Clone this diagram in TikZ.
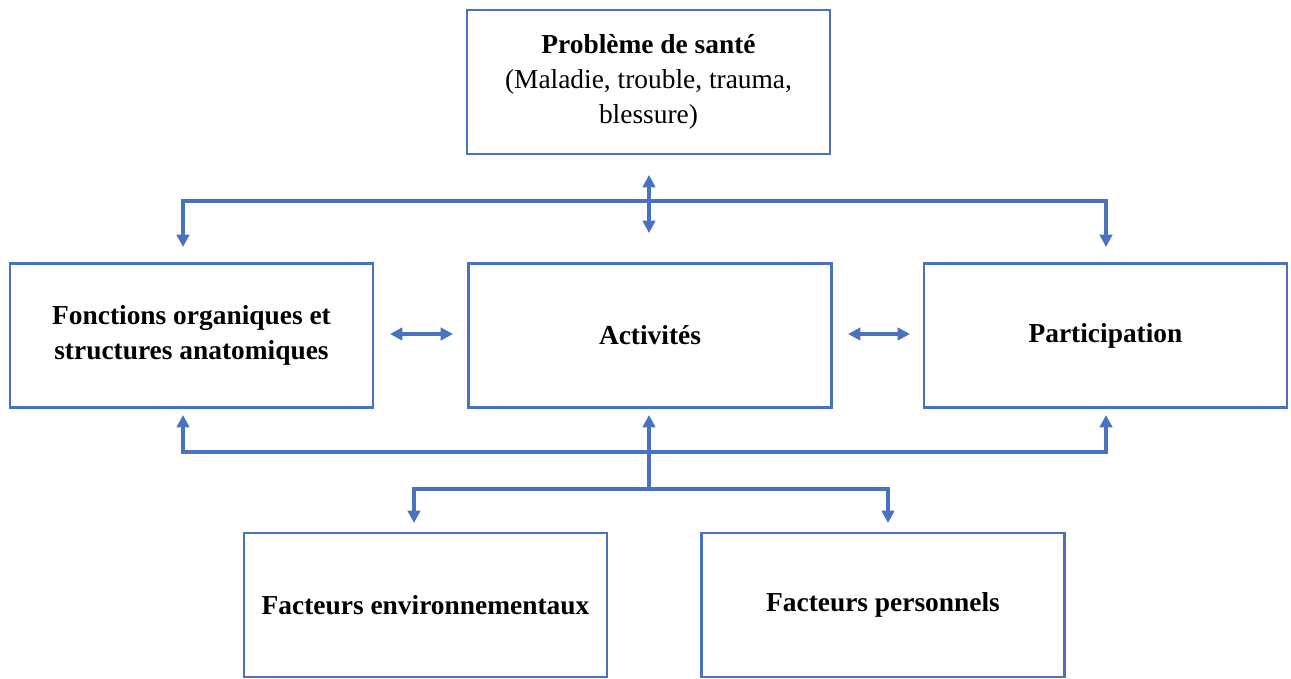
\documentclass[tikz,border=0pt]{standalone}
\usepackage{fontspec}
\setmainfont{Liberation Serif}
\usetikzlibrary{arrows.meta, positioning}
\definecolor{icfblue}{HTML}{4A72C0}

\begin{document}
\begin{tikzpicture}[x=0.02cm, y=-0.02cm, font=\fontsize{15.6}{20}\selectfont,
  >={Triangle[length=7pt, width=7pt]},
  box/.style={draw=icfblue, line width=1.6pt, minimum width=7.26cm, minimum height=2.88cm, align=center, inner sep=0pt},
  link/.style={draw=icfblue, line width=1.9pt}
]
  \useasboundingbox[fill=white] (0,0) rectangle (1291,679);
  % Boxes
  \node[box] (sante) at (648.5, 82) {\textbf{Problème de santé}\\(Maladie, trouble, trauma,\\blessure)};
  \node[box] (fonctions) at (191.5, 335.5) {\textbf{Fonctions organiques et}\\\textbf{structures anatomiques}};
  \node[box] (activites) at (650, 335.5) {\textbf{Activités}};
  \node[box] (participation) at (1105.5, 335.5) {\textbf{Participation}};
  \node[box] (environnement) at (425.5, 605) {\textbf{Facteurs environnementaux}};
  \node[box] (personnels) at (883, 605) {\textbf{Facteurs personnels}};

  % Upper bus
  \coordinate (santeA) at (649, 175);
  \coordinate (santeB) at (649, 233);
  \coordinate (hautL) at (183, 247);
  \coordinate (hautLc) at (183, 201);
  \coordinate (hautRc) at (1106, 201);
  \coordinate (hautR) at (1106, 247);
  \draw[link, <->] (santeA) -- (santeB);
  \draw[link, <->] (hautL) -- (hautLc) -- (hautRc) -- (hautR);

  % Side arrows
  \coordinate (milA) at (390, 334);
  \coordinate (milB) at (453, 334);
  \coordinate (milC) at (848, 334);
  \coordinate (milD) at (910, 334);
  \draw[link, <->] (milA) -- (milB);
  \draw[link, <->] (milC) -- (milD);

  % Lower bus
  \coordinate (basL) at (183, 415);
  \coordinate (basLc) at (183, 452);
  \coordinate (basRc) at (1106, 452);
  \coordinate (basR) at (1106, 415);
  \coordinate (centreH) at (649, 415);
  \coordinate (centreB) at (649, 489);
  \coordinate (facL) at (414, 523);
  \coordinate (facLc) at (414, 489);
  \coordinate (facRc) at (888, 489);
  \coordinate (facR) at (888, 523);
  \draw[link, <->] (basL) -- (basLc) -- (basRc) -- (basR);
  \draw[link, ->] (centreB) -- (centreH);
  \draw[link, <->] (facL) -- (facLc) -- (facRc) -- (facR);
\end{tikzpicture}
\end{document}
